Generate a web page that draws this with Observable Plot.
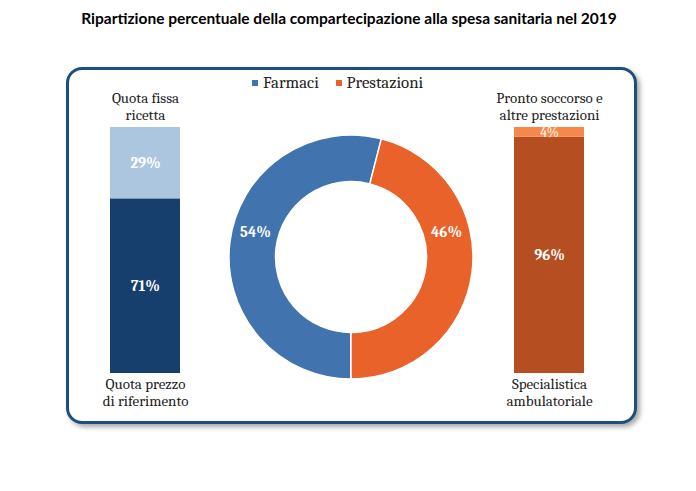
<!DOCTYPE html>
<html>
<head>
<meta charset="utf-8">
<script src="https://cdn.jsdelivr.net/npm/d3@7"></script>
<script src="https://cdn.jsdelivr.net/npm/@observablehq/plot@0.6"></script>
<style>
  html, body { margin: 0; padding: 0; background: #fff; }
  #page { position: relative; width: 696px; height: 491px; overflow: hidden; }
  #title { position: absolute; left: 0; top: 9px; width: 698px; text-align: center;
           font-family: Lato, "Open Sans", sans-serif; font-weight: bold; font-size: 15.5px; color: #000; }
  #box { position: absolute; left: 66px; top: 67px; width: 565px; height: 351px;
         border: 3px solid #1d4e7f; border-radius: 16px; box-shadow: 3px 3px 5px rgba(0,0,0,0.35); background: #fff; }
  .abs { position: absolute; }
  #legend { position: absolute; left: 196px; top: 66px; width: 300px; display: flex; justify-content: center; }
  #legend svg { margin-right: 5px !important; }
</style>
</head>
<body>
<div id="page">
  <div id="title"></div>
  <div id="box"></div>
  <div id="legend"></div>
  <div id="left" class="abs"></div>
  <div id="donut" class="abs"></div>
  <div id="right" class="abs"></div>
</div>
<script>
// ---- data ----
const titleText = "Ripartizione percentuale della compartecipazione alla spesa sanitaria nel 2019";

const donutCategories = ["Farmaci", "Prestazioni"];
const donutValues = [54, 46];
const donutColors = ["#4174ae", "#e8622a"];

const farmaciCategories = ["Quota prezzo\ndi riferimento", "Quota fissa\nricetta"];
const farmaciValues = [71, 29];
const farmaciColors = ["#173f6e", "#adc6df"];

const prestazioniCategories = ["Specialistica\nambulatoriale", "Pronto soccorso e\naltre prestazioni"];
const prestazioniValues = [96, 4];
const prestazioniColors = ["#b54f22", "#f5894b"];

const serif = "Cambria, 'Liberation Serif', 'DejaVu Serif', serif";
const pct = v => v + "%";

document.getElementById("title").textContent = titleText;

// ---- legend ----
const legend = Plot.legend({
  color: {type: "categorical", domain: donutCategories, range: donutColors},
  swatchSize: 6,
  style: {fontFamily: serif, fontSize: "16.8px", color: "#222", marginLeft: "0px"}
});
document.getElementById("legend").append(legend);

// ---- stacked bar helper ----
function stackedBar(cats, vals, colors) {
  const data = cats.map((c, i) => ({cat: c, v: vals[i]}));
  const total = d3.sum(vals);
  return Plot.plot({
    width: 160,
    height: 370,
    marginLeft: 45,
    marginRight: 45,
    marginTop: 67,
    marginBottom: 57,
    x: {axis: null},
    y: {domain: [0, total], axis: null},
    color: {domain: cats, range: colors},
    style: {fontFamily: serif, overflow: "visible", background: "transparent"},
    marks: [
      Plot.barY(data, {y: "v", fill: "cat"}),
      Plot.text(data, Plot.stackY({
        y: "v", text: d => (d.v >= 10 ? pct(d.v) : ""), fill: "white",
        fontWeight: "bold", fontSize: 15
      })),
      Plot.text(data, Plot.stackY({
        y: "v", text: d => (d.v < 10 ? pct(d.v) : ""), fill: "white",
        fontWeight: "normal", fontSize: 13.5
      })),
      Plot.text([cats[cats.length - 1]], {text: d => d, frameAnchor: "top", lineAnchor: "bottom",
        dy: -8, fontSize: 15, fill: "#222", lineHeight: 1.08}),
      Plot.text([cats[0]], {text: d => d, frameAnchor: "bottom", lineAnchor: "top",
        dy: 3, fontSize: 15, fill: "#222", lineHeight: 1.15})
    ]
  });
}

const leftDiv = document.getElementById("left");
leftDiv.style.left = (145 - 80) + "px";
leftDiv.style.top = "60px";
leftDiv.append(stackedBar(farmaciCategories, farmaciValues, farmaciColors));

const rightDiv = document.getElementById("right");
rightDiv.style.left = (549 - 80) + "px";
rightDiv.style.top = "60px";
rightDiv.append(stackedBar(prestazioniCategories, prestazioniValues, prestazioniColors));

// ---- donut ----
const donutData = donutCategories.map((c, i) => ({cat: c, v: donutValues[i]}));
const donutSize = 260;
const outerR = 122, innerR = 75.5;
const donut = Plot.plot({
  width: donutSize,
  height: donutSize,
  margin: 0,
  color: {domain: donutCategories, range: donutColors},
  style: {background: "transparent", overflow: "visible"},
  marks: [
    (index, scales, values, dims) => {
      const cx = dims.width / 2, cy = dims.height / 2;
      const pie = d3.pie().value(d => d.v).sort(null)
        .startAngle(Math.PI).endAngle(3 * Math.PI);
      const arc = d3.arc().innerRadius(innerR).outerRadius(outerR);
      const g = d3.create("svg:g").attr("transform", `translate(${cx},${cy})`);
      const arcs = pie(donutData);
      g.selectAll("path").data(arcs).join("path")
        .attr("d", arc)
        .attr("fill", d => scales.color ? scales.color(d.data.cat) : donutColors[d.index])
        .attr("stroke", "white").attr("stroke-width", 1.5);
      const midR = (innerR + outerR) / 2;
      const ly = -25;
      g.selectAll("text").data(arcs).join("text")
        .attr("x", d => {
          const mid = (d.startAngle + d.endAngle) / 2;
          return Math.sign(Math.sin(mid)) * Math.sqrt(midR * midR - ly * ly);
        })
        .attr("y", ly)
        .attr("dy", "0.35em")
        .attr("text-anchor", "middle")
        .attr("fill", "white")
        .attr("font-weight", "bold")
        .attr("font-size", 15)
        .attr("font-family", serif)
        .text(d => pct(d.data.v));
      return g.node();
    }
  ]
});
const donutDiv = document.getElementById("donut");
donutDiv.style.left = (351 - donutSize / 2) + "px";
donutDiv.style.top = (257 - donutSize / 2) + "px";
donutDiv.append(donut);
</script>
</body>
</html>
